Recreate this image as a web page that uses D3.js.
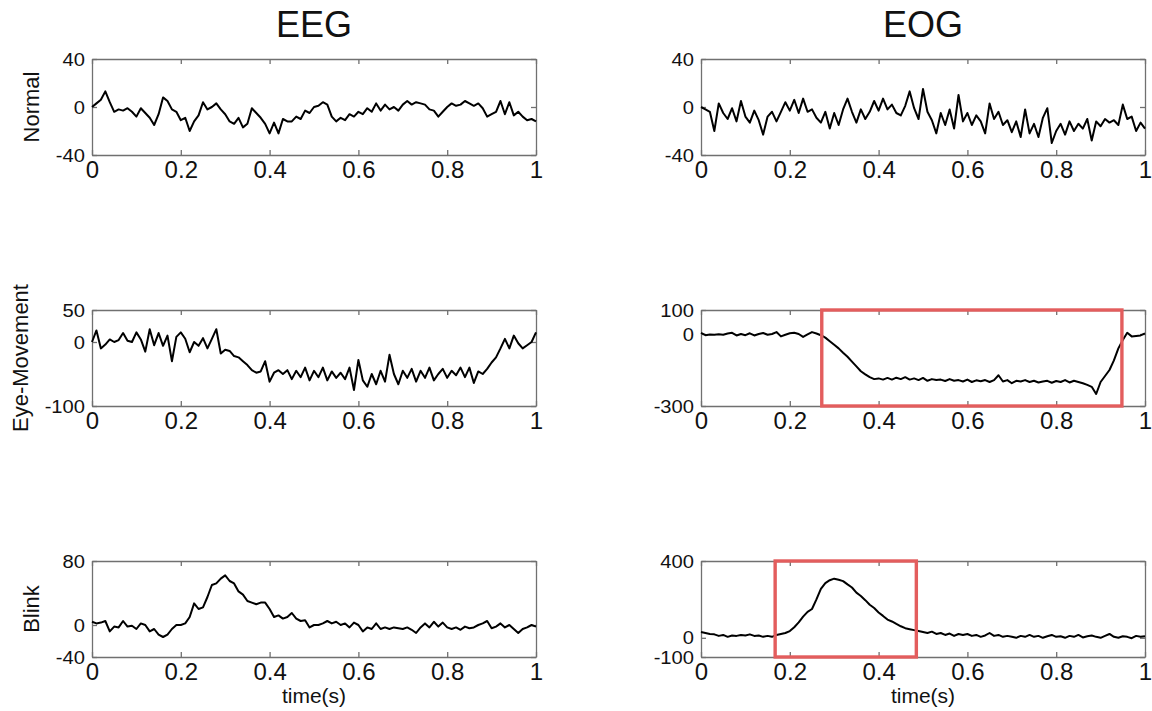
<!DOCTYPE html>
<html><head><meta charset="utf-8">
<script src="https://cdn.jsdelivr.net/npm/d3@7"></script>
<style>
body{margin:0;background:#fff}
svg{display:block}
text{font-family:"Liberation Sans",Arial,Helvetica,sans-serif;fill:#111}
</style>
</head><body>
<svg id="chart" width="1152" height="711"></svg>
<script>
// ---------- data ----------
const columnTitles = ["EEG", "EOG"];
const rowLabels = ["Normal", "Eye-Movement", "Blink"];
const xTicks = [0, 0.2, 0.4, 0.6, 0.8, 1];
const xTickLabels = ["0", "0.2", "0.4", "0.6", "0.8", "1"];
const yTicksEEG = [[-40, 0, 40], [-100, 0, 50], [-40, 0, 80]];
const yTicksEOG = [[-40, 0, 40], [-300, 0, 100], [-100, 0, 400]];
const sampleStep = 0.01; // seconds between samples
const xAxisLabel = "time(s)";

const eegNormal = [0,3,6,13,4,-4,-2,-3,-1,-4,-8,-1,-5,-9,-15,-6,8,5,-2,-4,
  -11,-9,-20,-12,-7,4,-2,0,3,-2,-6,-12,-14,-9,-17,-14,-1,-5,-9,-14,
  -22,-13,-22,-10,-12,-12,-8,-10,-3,-5,0,1,4,2,-8,-12,-9,-11,-6,-8,
  -4,-6,-1,-4,3,-3,2,-2,0,-3,2,5,2,4,3,2,-2,-3,-8,-4,
  0,3,1,2,5,3,1,3,-1,-8,-6,-4,5,-6,4,-7,-4,-8,-11,-10,-12];
const eogNormal = [0,-2,-4,-20,3,-5,-10,-1,-12,5,-8,-13,-3,-11,-23,-8,-4,-12,-4,4,
  -3,6,-5,7,-4,-2,-9,-13,-4,-18,-5,-15,-2,7,-4,-13,-2,-10,-4,5,
  -3,7,-2,2,-5,-7,1,13,-1,-10,15,-4,-11,-22,-5,-15,-2,-18,10,-12,
  -5,-15,-7,-12,-22,3,-10,-4,-15,-11,-21,-12,-25,-2,-22,-14,-25,-9,-1,-30,
  -20,-14,-23,-12,-20,-14,-18,-10,-28,-12,-16,-10,-13,-11,-15,2,-10,-8,-20,-13,-18];
const eegEyeMovement = [0,18,-10,-4,4,0,3,14,2,0,15,4,-15,20,-5,14,-6,10,-30,8,
  15,5,-16,0,-6,6,-10,5,20,-18,-12,-14,-22,-24,-30,-36,-44,-48,-46,-30,
  -62,-48,-44,-50,-44,-58,-45,-55,-40,-60,-45,-55,-40,-60,-46,-56,-48,-58,-40,-75,
  -28,-60,-70,-50,-66,-45,-62,-20,-50,-66,-45,-56,-42,-62,-45,-56,-40,-60,-50,-42,
  -56,-45,-52,-40,-55,-40,-64,-46,-50,-42,-32,-24,-10,5,-10,10,-2,-10,-5,0,15];
const eogEyeMovement = [5,-5,-2,-3,-1,-3,2,5,-6,0,-5,3,-6,0,4,-3,0,8,-10,-3,
  3,5,0,-12,-2,8,2,-5,-15,-30,-45,-60,-78,-95,-115,-135,-155,-168,-180,-188,
  -185,-190,-183,-190,-182,-188,-180,-190,-185,-192,-183,-195,-188,-192,-190,-196,-188,-195,-192,-198,
  -190,-200,-193,-197,-192,-200,-192,-172,-198,-192,-205,-195,-198,-192,-200,-195,-202,-198,-195,-203,
  -196,-200,-192,-202,-195,-200,-205,-212,-220,-250,-200,-175,-150,-110,-60,-25,5,-10,-8,-6,3];
const eegBlink = [4,2,3,5,-8,-2,-3,5,-2,-1,-5,2,0,-8,-5,-12,-15,-12,-5,0,
  0,2,10,27,20,22,35,50,52,58,62,55,52,42,38,30,28,26,28,28,
  20,10,12,8,10,15,8,5,6,-3,0,0,2,5,2,4,0,2,-3,3,
  0,-8,-3,-5,2,-5,-3,-5,-3,-4,-5,-3,-6,-10,-3,2,-3,4,-2,3,
  -3,-5,-3,-6,-2,-4,-3,0,2,5,-4,-2,2,-3,0,-5,-10,-5,-3,0,-2];
const eogBlink = [30,25,20,18,10,15,5,12,10,15,12,18,10,12,5,10,5,15,20,25,
  35,55,80,110,135,150,200,255,285,300,308,302,295,278,262,235,218,196,172,155,
  132,114,95,85,72,60,50,45,40,35,30,25,32,20,25,15,22,10,20,15,
  20,10,15,5,12,25,10,15,5,10,5,0,10,5,15,5,10,0,8,15,
  5,8,0,10,5,15,2,8,12,5,0,10,20,5,0,8,5,-2,10,5,8];

const eegSeries = [eegNormal, eegEyeMovement, eegBlink];
const eogSeries = [eogNormal, eogEyeMovement, eogBlink];
// highlighted time windows (seconds) on the EOG panels
const eogHighlight = [null, [0.272, 0.948], [0.167, 0.485]];

// ---------- layout ----------
const svg = d3.select("#chart");
svg.append("rect").attr("width", 1152).attr("height", 711).attr("fill", "#fff");
const colLeft = [92, 701];
const rowTop = [59, 310, 561];
const pw = 444, ph = 96;
const frameColor = "#707070";
const yLabelStretch = 1.12;

const columns = [
  {title: columnTitles[0], series: eegSeries, ticks: yTicksEEG, highlight: [null, null, null]},
  {title: columnTitles[1], series: eogSeries, ticks: yTicksEOG, highlight: eogHighlight}
];

columns.forEach((col, ci) => {
  svg.append("text")
    .attr("x", colLeft[ci] + pw / 2).attr("y", 37)
    .attr("text-anchor", "middle")
    .style("font-size", "36px")
    .text(col.title);

  col.series.forEach((vals, ri) => {
    const g = svg.append("g").attr("transform", `translate(${colLeft[ci]},${rowTop[ri]})`);
    const yt = col.ticks[ri];
    const x = d3.scaleLinear().domain([0, 1]).range([0, pw]);
    const y = d3.scaleLinear().domain([yt[0], yt[yt.length - 1]]).range([ph, 0]);

    // axes (inward ticks on all sides, MATLAB style)
    const axB = g.append("g").attr("transform", `translate(0,${ph})`)
      .call(d3.axisBottom(x).tickValues(xTicks).tickFormat((d, i) => xTickLabels[i])
        .tickSizeInner(-5).tickSizeOuter(0).tickPadding(6));
    axB.selectAll("text").style("font-size", "24px").attr("fill", "#111");
    const axT = g.append("g")
      .call(d3.axisTop(x).tickValues(xTicks).tickFormat("").tickSizeInner(-5).tickSizeOuter(0));
    const axL = g.append("g")
      .call(d3.axisLeft(y).tickValues(yt).tickFormat(d => String(d))
        .tickSizeInner(-5).tickSizeOuter(0).tickPadding(7));
    axL.selectAll("text")
      .style("font-size", "18px").attr("fill", "#111").attr("dy", "0.34em")
      .attr("x", -7 / yLabelStretch)
      .attr("transform", `scale(${yLabelStretch},1)`);
    const axR = g.append("g").attr("transform", `translate(${pw},0)`)
      .call(d3.axisRight(y).tickValues(yt).tickFormat("").tickSizeInner(-5).tickSizeOuter(0));
    [axB, axT, axL, axR].forEach(a => {
      a.select(".domain").attr("stroke", frameColor).attr("stroke-width", 1.3);
      a.selectAll(".tick line").attr("stroke", frameColor).attr("stroke-width", 1.3);
    });

    // signal
    const line = d3.line().x((d, i) => x(i * sampleStep)).y(d => y(d));
    g.append("path").datum(vals)
      .attr("fill", "none").attr("stroke", "#000")
      .attr("stroke-width", 2).attr("stroke-linejoin", "round")
      .attr("d", line);

    // highlight box
    const hl = col.highlight[ri];
    if (hl) {
      g.append("rect")
        .attr("x", x(hl[0])).attr("y", y(yt[yt.length - 1]))
        .attr("width", x(hl[1]) - x(hl[0]))
        .attr("height", y(yt[0]) - y(yt[yt.length - 1]))
        .attr("fill", "none").attr("stroke", "#e35d5d").attr("stroke-width", 3.4);
    }

    // row label (left column only)
    if (ci === 0) {
      let minX = Infinity;
      axL.selectAll("text").each(function () {
        const b = this.getBBox();
        minX = Math.min(minX, b.x * yLabelStretch);
      });
      const lx = minX - 17;
      g.append("text")
        .attr("transform", `translate(${lx},${ph / 2}) rotate(-90)`)
        .attr("text-anchor", "middle")
        .style("font-size", "22px")
        .text(rowLabels[ri]);
    }

    // x axis label on bottom row
    if (ri === 2) {
      g.append("text")
        .attr("x", pw / 2).attr("y", ph + 46)
        .attr("text-anchor", "middle")
        .style("font-size", "21px")
        .text(xAxisLabel);
    }
  });
});
</script>
</body></html>
